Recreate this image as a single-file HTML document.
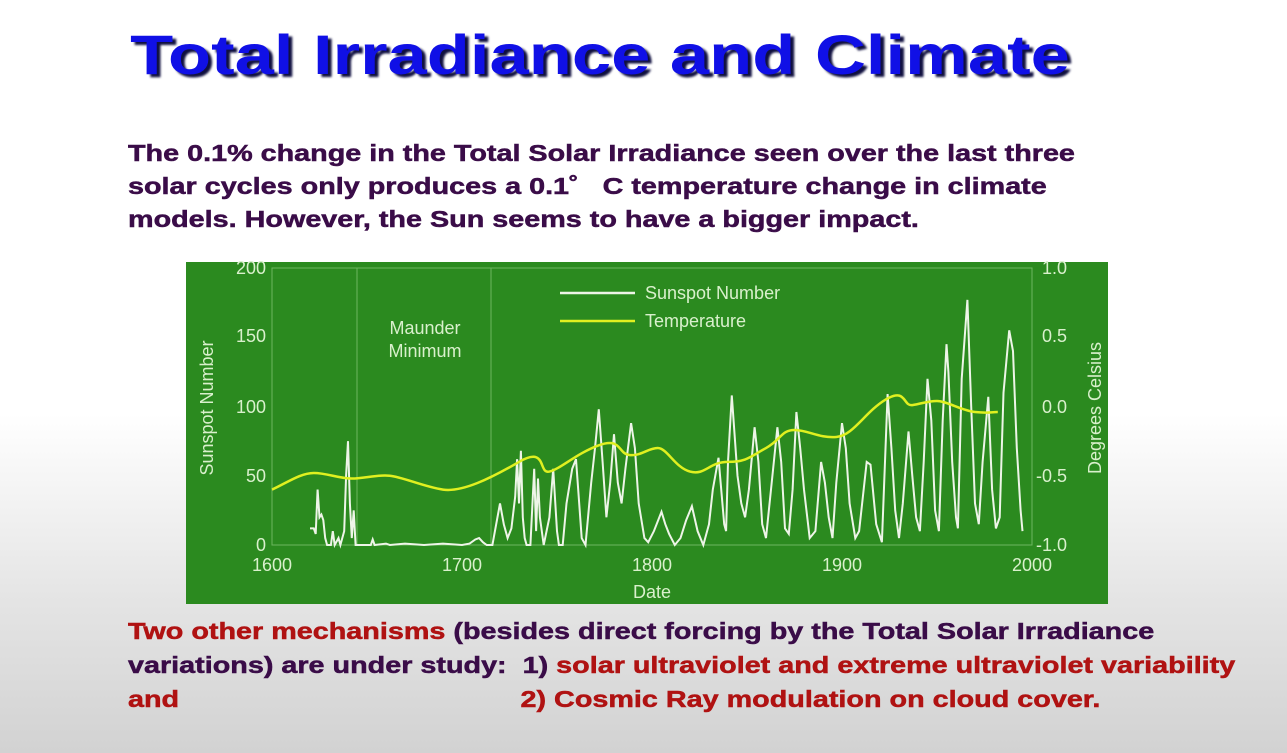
<!DOCTYPE html>
<html><head><meta charset="utf-8"><style>
body{margin:0;width:1287px;height:753px;overflow:hidden;background:linear-gradient(#fff 0%,#fff 55%,#e4e4e4 80%,#d2d2d2 100%);font-family:"Liberation Sans",Arial,sans-serif;position:relative}
.t{position:absolute;left:0;width:1200px;text-align:center;top:22px;font-size:56px;font-weight:bold;color:#1010e6;text-shadow:3px 3px 2px #101040;transform:scaleX(1.26);transform-origin:600px 0}
.p{position:absolute;left:128px;font-size:23px;font-weight:bold;color:#3a0c48;white-space:nowrap;transform:scaleX(1.25);transform-origin:0 0;-webkit-text-stroke:0.5px currentColor}
.r{color:#b01212}
</style></head><body>
<div class="t">Total Irradiance and Climate</div>
<div class="p" style="top:140px">The 0.1% change in the Total Solar Irradiance seen over the last three</div>
<div class="p" style="top:173px">solar cycles only produces a 0.1˚&nbsp;&nbsp;&nbsp;C temperature change in climate</div>
<div class="p" style="top:206px">models. However, the Sun seems to have a bigger impact.</div>
<div class="p" style="top:618px"><span class="r">Two other mechanisms</span> (besides direct forcing by the Total Solar Irradiance</div>
<div class="p" style="top:652px">variations) are under study:&nbsp; 1) <span class="r">solar ultraviolet and extreme ultraviolet variability</span></div>
<div class="p" style="top:686px"><span class="r">and</span><span style="position:absolute;left:314px" class="r">2) Cosmic Ray modulation on cloud cover.</span></div>
<svg style="position:absolute;left:0;top:0" width="1287" height="753">
<rect x="186" y="262" width="922" height="342" fill="#2b8a1f"/>
<g stroke="#7fc070" stroke-width="1" fill="none" opacity="0.8">
<rect x="272" y="268" width="760" height="277"/>
<line x1="357" y1="268" x2="357" y2="545"/><line x1="491" y1="268" x2="491" y2="545"/>
</g>
<g font-size="18" fill="#d9f0cc" font-family="Liberation Sans,sans-serif">
<g text-anchor="end"><text x="266" y="274">200</text><text x="266" y="342">150</text><text x="266" y="413">100</text><text x="266" y="482">50</text><text x="266" y="551">0</text></g>
<g text-anchor="start"><text x="1042" y="274">1.0</text><text x="1042" y="342">0.5</text><text x="1042" y="413">0.0</text><text x="1036" y="482">-0.5</text><text x="1036" y="551">-1.0</text></g>
<g text-anchor="middle"><text x="272" y="571">1600</text><text x="462" y="571">1700</text><text x="652" y="571">1800</text><text x="842" y="571">1900</text><text x="1032" y="571">2000</text><text x="652" y="598">Date</text></g>
<text x="425" y="334" text-anchor="middle">Maunder</text><text x="425" y="357" text-anchor="middle">Minimum</text>
<text transform="translate(213,408) rotate(-90)" text-anchor="middle">Sunspot Number</text>
<text transform="translate(1101,408) rotate(-90)" text-anchor="middle">Degrees Celsius</text>
<text x="645" y="299">Sunspot Number</text><text x="645" y="327">Temperature</text>
</g>
<line x1="560" y1="293" x2="635" y2="293" stroke="#eef5e8" stroke-width="2.5"/>
<line x1="560" y1="321" x2="635" y2="321" stroke="#e0f020" stroke-width="2.5"/>
<g transform="translate(272,545) scale(1.9,-1.385)" fill="none">
<path vector-effect="non-scaling-stroke" stroke="#eef5e8" stroke-width="2" d="M20,12 L22,12 23,8 24,40 25,20 26,22 27,18 28,5 29,0 31,0 32,10 33,0 35,5 36,0 38,10 39,50 40,75 41,30 42,5 43,25 44,0 46,0 52,0 53,4 54,0 60,1 62,0 70,1 80,0 90,1 100,0 104,1 107,4 109,5 111,2 113,0 116,0 118,15 120,30 122,15 124,5 126,12 128,35 129,62 130,30 131,68 132,20 133,5 134,0 136,0 138,55 139,10 140,48 141,20 143,0 146,20 148,55 150,10 151,0 153,0 155,30 158,55 160,62 163,5 165,0 168,45 170,70 172,98 174,60 176,20 178,45 180,80 182,45 184,30 186,55 189,88 191,70 193,30 196,5 198,2 201,10 205,24 207,15 209,8 212,0 215,5 218,18 221,28 224,10 227,0 230,15 232,40 235,63 238,15 239,10 240,60 242,108 245,50 247,30 249,20 251,40 254,85 256,60 258,15 260,5 263,45 266,85 268,60 270,12 272,8 274,40 276,96 278,70 280,40 283,5 286,10 289,60 291,45 293,20 295,5 297,45 300,88 302,70 304,30 307,5 309,10 313,60 315,58 318,15 321,2 324,109 326,70 328,25 330,5 332,30 335,82 337,50 339,20 341,10 343,60 345,120 347,90 349,25 351,10 353,90 355,145 356,125 358,60 360,20 361,12 363,120 366,177 368,100 370,30 372,15 374,60 377,107 379,40 381,12 383,20 385,110 388,155 390,140 392,70 394,25 395,10"/>
<path vector-effect="non-scaling-stroke" stroke="#e0f020" stroke-width="2.5" d="M0,40 C8,45 15,52 22,52 S35,48 42,48 S55,51 62,50 S80,42 90,40 S115,48 130,60 S140,51 146,53 S160,66 172,72 S182,66 188,65 S198,70 203,70 S212,56 220,53 S230,60 240,60 S252,64 260,70 S268,83 275,83 S288,77 297,78 S312,96 323,105 S332,100 337,101 S345,104 350,104 S363,97 370,96 S378,96 382,96"/>
</g>
</svg>
</body></html>
